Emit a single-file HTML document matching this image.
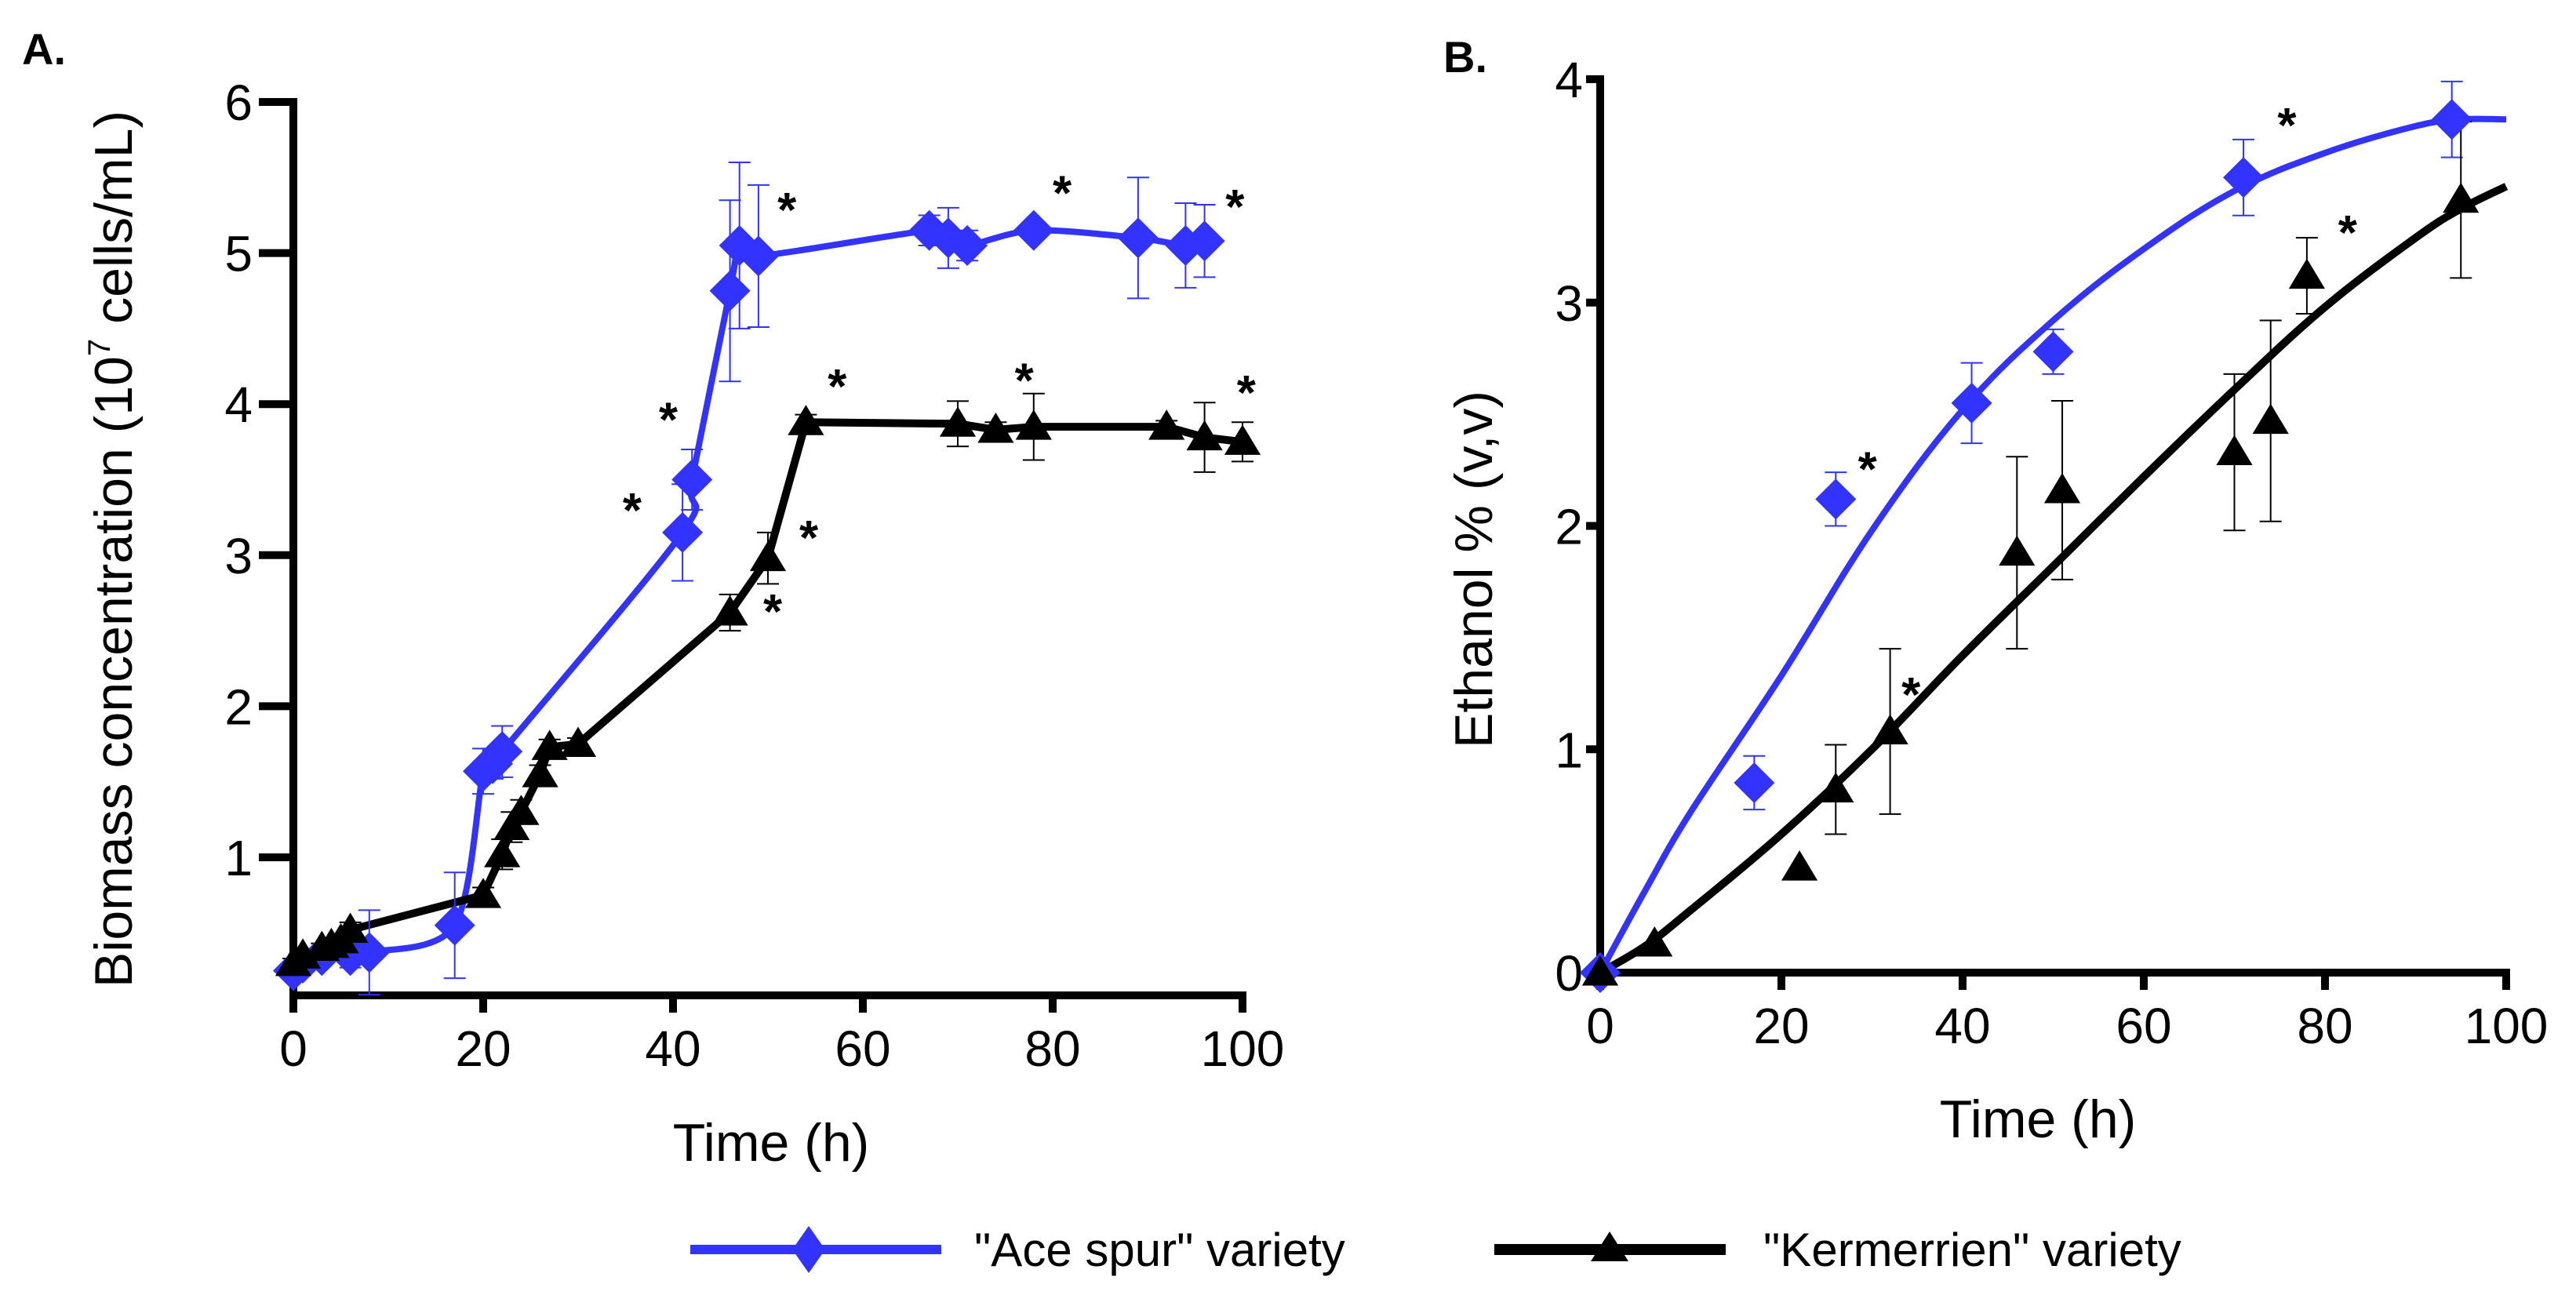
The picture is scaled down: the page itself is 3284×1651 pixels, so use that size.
<!DOCTYPE html>
<html><head><meta charset="utf-8"><style>
html,body{margin:0;padding:0;background:#fff;}
svg{display:block;font-family:"Liberation Sans",Arial,sans-serif;}
</style></head><body>
<svg id="fig" width="3284" height="1651" viewBox="0 0 3284 1651" xmlns="http://www.w3.org/2000/svg">
<text x="28" y="82" font-size="56" font-weight="bold">A.</text>
<text x="1840" y="92" font-size="56" font-weight="bold">B.</text>
<text transform="translate(168,700) rotate(-90)" text-anchor="middle" font-size="68">Biomass concentration (10<tspan font-size="40" dy="-28">7</tspan><tspan dy="28"> cells/mL)</tspan></text>
<text transform="translate(1902,726) rotate(-90)" text-anchor="middle" font-size="68">Ethanol % (v,v)</text>
<text x="983" y="1480" text-anchor="middle" font-size="68">Time (h)</text>
<text x="2598" y="1450" text-anchor="middle" font-size="68">Time (h)</text>
<g id="gA"></g>
<g id="gB"></g>
<g>
 <g>
  <line x1="880" y1="1593" x2="1200" y2="1593" stroke="#3333ff" stroke-width="12"/>
  <polygon points="1031,1563 1052,1593 1031,1623 1010,1593" fill="#3333ff"/>
  <text x="1242" y="1614" font-size="60">"Ace spur" variety</text>
 </g>
 <g>
  <line x1="1905" y1="1593" x2="2200" y2="1593" stroke="#000" stroke-width="14"/>
  <polygon points="2052,1570 2076,1608 2028,1608" fill="#000"/>
  <text x="2248" y="1614" font-size="60">"Kermerrien" variety</text>
 </g>
</g>
</svg>
<script>
// Panel A data
const aBlueX=[0,1,3,6,8,17,20,21,22,41,42,46,47,49,67,69,71,78,89,94,96];
const aBlueY=[0.25,0.3,0.35,0.35,0.37,0.55,1.57,1.62,1.7,3.15,3.5,4.75,5.05,4.98,5.15,5.1,5.05,5.15,5.1,5.05,5.08];
const aBlueErr=[0.05,0.05,0.05,0.08,0.28,0.35,0.15,0.1,0.17,0.32,0.2,0.6,0.55,0.47,0.1,0.2,0.1,0.05,0.4,0.28,0.24];
const aBlackX=[0,1,3,4,5,6,20,22,23,24,26,27,30,46,50,54,70,74,78,92,96,100];
const aBlackY=[0.3,0.35,0.4,0.42,0.45,0.52,0.75,1.02,1.2,1.3,1.55,1.73,1.75,2.62,2.98,3.88,3.87,3.83,3.85,3.85,3.78,3.75];
const aBlackErr=[0.03,0.03,0.03,0.03,0.03,0.05,0.05,0.1,0.1,0.08,0.06,0.05,0.04,0.12,0.17,0.05,0.15,0.05,0.22,0.04,0.23,0.13];
const aStarX=[35.7,39.5,52,81,99.2,50.5,54.3,57.3,77,100.4];
const aStarY=[3.32,3.92,5.31,5.42,5.33,2.65,3.14,4.14,4.18,4.1];
const aYTicks=[1,2,3,4,5,6];
const xTicks=[0,20,40,60,80,100];
// Panel B data
const bBlueX=[0,17,26,41,50,71,94];
const bBlueY=[0,0.85,2.12,2.55,2.78,3.56,3.82];
const bBlueErr=[0,0.12,0.12,0.18,0.1,0.17,0.17];
const bBlackX=[0,6,22,26,32,46,51,70,74,78,95];
const bBlackY=[0,0.13,0.47,0.82,1.08,1.88,2.16,2.33,2.47,3.12,3.46];
const bBlackErr=[0,0,0,0.2,0.37,0.43,0.4,0.35,0.45,0.17,0.35];
const fitX=[0,5,10,20,30,40,50,60,70,80,90,95,100];
const bBlueFit=[0,0.37,0.72,1.33,1.98,2.52,2.92,3.24,3.5,3.67,3.79,3.82,3.82];
const bBlackFit=[0,0.12,0.28,0.62,1.0,1.42,1.82,2.22,2.61,2.98,3.29,3.42,3.52];
const bStarX=[29.5,75.8,82.5,34.3];
const bStarY=[2.27,3.81,3.33,1.26];
const bYTicks=[0,1,2,3,4];

const NS='http://www.w3.org/2000/svg';
const BLUE='#3333ff';
function mk(parent,tag,attrs){const e=document.createElementNS(NS,tag);for(const k in attrs)e.setAttribute(k,attrs[k]);parent.appendChild(e);return e;}
function smoothPath(pts,t){
  t=t||0.15;
  let d='M'+pts[0][0]+','+pts[0][1];
  for(let i=0;i<pts.length-1;i++){
    const p0=pts[Math.max(0,i-1)],p1=pts[i],p2=pts[i+1],p3=pts[Math.min(pts.length-1,i+2)];
    const c1=[p1[0]+(p2[0]-p0[0])*t,p1[1]+(p2[1]-p0[1])*t];
    const c2=[p2[0]-(p3[0]-p1[0])*t,p2[1]-(p3[1]-p1[1])*t];
    d+=' C'+c1[0]+','+c1[1]+' '+c2[0]+','+c2[1]+' '+p2[0]+','+p2[1];
  }
  return d;
}
function diamond(g,x,y,r){const p=mk(g,'polygon',{points:`${x},${y-r} ${x+r},${y} ${x},${y+r} ${x-r},${y}`,fill:BLUE});

}
function tri(g,x,y,r){const p=mk(g,'polygon',{points:`${x},${y-r} ${x+r*1.05},${y+r*0.75} ${x-r*1.05},${y+r*0.75}`,fill:'#000'});

}
function errbar(g,x,y0,y1,col,w){const e=mk(g,'g',{stroke:col,'stroke-width':w});


mk(e,'line',{x1:x,y1:y0,x2:x,y2:y1});mk(e,'line',{x1:x-14,y1:y0,x2:x+14,y2:y0});mk(e,'line',{x1:x-14,y1:y1,x2:x+14,y2:y1});}
function star(g,x,y){const t=mk(g,'text',{x:x,y:y+26,'font-size':62,'font-weight':'bold','text-anchor':'middle'});t.textContent='*';

}

function axes(g,sx,sy,x0,xEnd,yTop,yAxis,yTicks,labelX,tickLen){
  const ax=mk(g,'g',{stroke:'#000','stroke-width':10,fill:'none'});
  
  
  mk(ax,'line',{x1:x0,y1:yTop-5,x2:x0,y2:yAxis+5});
  mk(ax,'line',{x1:x0-5,y1:yAxis,x2:xEnd+5,y2:yAxis});
  xTicks.forEach(v=>{const x=sx(v);mk(ax,'line',{x1:x,y1:yAxis,x2:x,y2:yAxis+22});
    const t=mk(g,'text',{x:x,y:yAxis+90,'font-size':64,'text-anchor':'middle'});t.textContent=v;
    
    });
  yTicks.forEach(v=>{const y=sy(v);mk(ax,'line',{x1:x0-tickLen,y1:y,x2:x0,y2:y});
    const t=mk(g,'text',{x:labelX,y:y+23,'font-size':64,'text-anchor':'end'});t.textContent=v;
    
    });
}

// Panel A
(function(){
  const g=document.getElementById('gA');
  const sx=v=>374+v*12.1, sy=v=>1285.6-v*192.6;
  axes(g,sx,sy,374,1584,130,1269,aYTicks,322,44);
  const bl=mk(g,'path',{d:smoothPath(aBlueX.map((x,i)=>[sx(x),sy(aBlueY[i])])),stroke:BLUE,'stroke-width':8,fill:'none'});
  
  
  const kl=mk(g,'path',{d:'M'+aBlackX.map((x,i)=>sx(x)+','+sy(aBlackY[i])).join(' L'),stroke:'#000','stroke-width':10,fill:'none','stroke-linejoin':'round'});
  
  
  aBlueX.forEach((x,i)=>errbar(g,sx(x),sy(aBlueY[i]+aBlueErr[i]),sy(aBlueY[i]-aBlueErr[i]),BLUE,2));
  aBlackX.forEach((x,i)=>errbar(g,sx(x),sy(aBlackY[i]+aBlackErr[i]),sy(aBlackY[i]-aBlackErr[i]),'#000',2));
  aBlueX.forEach((x,i)=>diamond(g,sx(x),sy(aBlueY[i]),26));
  aBlackX.forEach((x,i)=>tri(g,sx(x),sy(aBlackY[i]),22));
  aStarX.forEach((x,i)=>star(g,sx(x),sy(aStarY[i])));
})();
// Panel B
(function(){
  const g=document.getElementById('gB');
  const sx=v=>2040+v*11.55, sy=v=>1240-v*284.75;
  axes(g,sx,sy,2040,3195,101,1240,bYTicks,2018,18);
  const bl=mk(g,'path',{d:smoothPath(fitX.map((x,i)=>[sx(x),sy(bBlueFit[i])]),0.18),stroke:BLUE,'stroke-width':8,fill:'none'});
  
  
  const kl=mk(g,'path',{d:smoothPath(fitX.map((x,i)=>[sx(x),sy(bBlackFit[i])]),0.18),stroke:'#000','stroke-width':10,fill:'none'});
  
  
  bBlueX.forEach((x,i)=>{if(bBlueErr[i]>0)errbar(g,sx(x),sy(bBlueY[i]+bBlueErr[i]),sy(bBlueY[i]-bBlueErr[i]),BLUE,2);});
  bBlackX.forEach((x,i)=>{if(bBlackErr[i]>0)errbar(g,sx(x),sy(bBlackY[i]+bBlackErr[i]),sy(bBlackY[i]-bBlackErr[i]),'#000',2);});
  bBlueX.forEach((x,i)=>diamond(g,sx(x),sy(bBlueY[i]),26));
  bBlackX.forEach((x,i)=>tri(g,sx(x),sy(bBlackY[i]),22));
  bStarX.forEach((x,i)=>star(g,sx(x),sy(bStarY[i])));
})();
</script>
</body></html>
